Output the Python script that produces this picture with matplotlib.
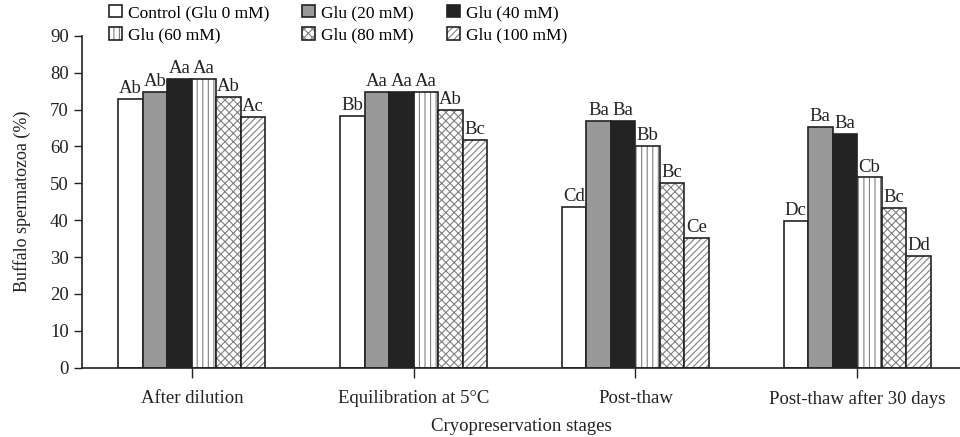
import numpy as np
import matplotlib
matplotlib.use("Agg")
import matplotlib.pyplot as plt

plt.rcParams["font.family"] = ["Liberation Serif", "DejaVu Serif"]
plt.rcParams["hatch.linewidth"] = 0.8

# data
stages = ["After dilution", "Equilibration at 5\u00b0C", "Post-thaw", "Post-thaw after 30 days"]
series = ["Control (Glu 0 mM)", "Glu (20 mM)", "Glu (40 mM)",
          "Glu (60 mM)", "Glu (80 mM)", "Glu (100 mM)"]
control = [73.0, 68.3, 43.5, 39.9]
glu20 = [74.9, 74.9, 66.9, 65.2]
glu40 = [78.3, 74.9, 66.9, 63.5]
glu60 = [78.3, 74.9, 60.1, 51.6]
glu80 = [73.4, 69.9, 50.0, 43.4]
glu100 = [68.0, 61.7, 35.2, 30.3]
letters = [
    ["Ab", "Bb", "Cd", "Dc"],
    ["Ab", "Aa", "Ba", "Ba"],
    ["Aa", "Aa", "Ba", "Ba"],
    ["Aa", "Aa", "Bb", "Cb"],
    ["Ab", "Ab", "Bc", "Bc"],
    ["Ac", "Bc", "Ce", "Dd"],
]

values = [control, glu20, glu40, glu60, glu80, glu100]
# (face colour, hatch)
styles = [("white", None), ("#999999", None), ("#232323", None),
          ("white", "|||"), ("white", "xxxx"), ("white", "/////")]

fig = plt.figure(figsize=(9.6, 4.37), dpi=100)
ax = fig.add_axes([0.0854, 0.1586, 0.9146, 0.7594])

x = np.arange(len(stages))
w = 0.1105
handles = []
for i, (vals, (fc, hatch)) in enumerate(zip(values, styles)):
    pos = x + (i - 2.5) * w
    bars = ax.bar(pos, vals, width=w, color=fc, edgecolor="#222222",
                  linewidth=1.2, hatch=hatch, label=series[i])
    if hatch:
        for b in bars:
            b._hatch_color = matplotlib.colors.to_rgba("#808080")
    handles.append(bars)
    for p, v, t in zip(pos, vals, letters[i]):
        ax.text(p, v + 0.5, t, ha="center", va="bottom", fontsize=13.5, color="#222222")

ax.set_xlim(-0.496, 3.464)
ax.set_ylim(0, 90)
ax.set_yticks(range(0, 91, 10))
ax.set_xticks(x)
ax.set_xticklabels(stages, fontsize=13.5)
ax.tick_params(axis="y", labelsize=13.5, direction="out", length=6, width=1, colors="#222222")
ax.tick_params(axis="x", direction="out", length=7, width=1, pad=9, colors="#222222")
for s in ["top", "right"]:
    ax.spines[s].set_visible(False)
for s in ["left", "bottom"]:
    ax.spines[s].set_linewidth(1.2)
    ax.spines[s].set_color("#222222")

ax.set_ylabel("Buffalo spermatozoa (%)", fontsize=13, color="#222222", labelpad=14)
ax.set_xlabel("Cryopreservation stages", fontsize=13.5, color="#222222", labelpad=7)

order = [0, 3, 1, 4, 2, 5]
fig.legend([handles[k] for k in order], [series[k] for k in order],
           ncol=3, loc="upper left", bbox_to_anchor=(0.097, 1.025),
           frameon=False, fontsize=12.5, handlelength=0.75, handleheight=0.75,
           handletextpad=0.35, columnspacing=1.9, labelspacing=0.35)

fig.savefig("out.png", dpi=100)
